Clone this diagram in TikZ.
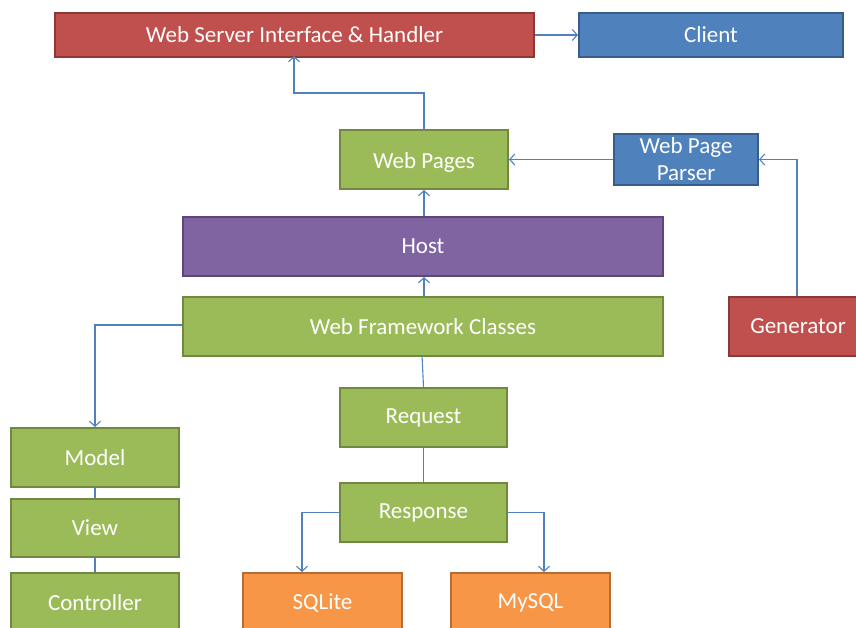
\documentclass[tikz,border=0pt]{standalone}
\usepackage{fontspec}
\setmainfont{Carlito}
\usetikzlibrary{arrows.meta}
\definecolor{redF}{HTML}{C0504D}\definecolor{redB}{HTML}{8C3836}
\definecolor{bluF}{HTML}{4F81BD}\definecolor{bluB}{HTML}{385D8A}
\definecolor{grnF}{HTML}{9BBB59}\definecolor{grnB}{HTML}{71893F}
\definecolor{purF}{HTML}{8064A2}\definecolor{purB}{HTML}{5C4776}
\definecolor{orgF}{HTML}{F79646}\definecolor{orgB}{HTML}{B66D31}
\definecolor{wire}{HTML}{4F81BD}
\tikzset{
  box/.style={draw, line width=2pt, text=white, font=\fontsize{23}{27}\selectfont,
    inner sep=0pt, anchor=north west, align=center},
  redbox/.style={box, fill=redF, draw=redB},
  blubox/.style={box, fill=bluF, draw=bluB},
  grnbox/.style={box, fill=grnF, draw=grnB},
  purbox/.style={box, fill=purF, draw=purB},
  orgbox/.style={box, fill=orgF, draw=orgB},
  wirel/.style={draw=wire, line width=1.1pt},
  arr/.style={wirel, -{Straight Barb[length=5pt,width=11pt,line width=1.1pt]}}
}
\begin{document}
\begin{tikzpicture}[x=1pt,y=-1pt]
\useasboundingbox (0,0) rectangle (856,627);
\begin{scope}
\clip (0,0) rectangle (856,627);
\node[redbox, minimum width=479pt, minimum height=44pt] (wsi) at (54,12) {Web Server Interface \& Handler};
\node[blubox, minimum width=264pt, minimum height=44pt] (client) at (578,12) {Client};
\node[grnbox, minimum width=168pt, minimum height=59pt] (pages) at (339,129) {\raisebox{-3pt}[\height][\depth]{Web Pages}};
\node[blubox, minimum width=144pt, minimum height=51pt] (parser) at (613,133) {Web Page\\Parser};
\node[purbox, minimum width=480pt, minimum height=59pt] (host) at (182,216) {Host};
\node[grnbox, minimum width=480pt, minimum height=59pt] (wfc) at (182,296) {Web Framework Classes};
\node[redbox, minimum width=138pt, minimum height=59pt] (gen) at (728,296) {Generator};
\node[grnbox, minimum width=167pt, minimum height=59pt] (req) at (339,387) {Request};
\node[grnbox, minimum width=167pt, minimum height=59pt] (resp) at (339,482) {Response};
\node[grnbox, minimum width=168pt, minimum height=59pt] (model) at (10,427) {Model};
\node[grnbox, minimum width=168pt, minimum height=58pt] (view) at (10,498) {View};
\node[grnbox, minimum width=168pt, minimum height=60pt] (ctrl) at (10,572) {Controller};
\node[orgbox, minimum width=159pt, minimum height=60pt] (sqlite) at (242,572) {SQLite};
\node[orgbox, minimum width=159pt, minimum height=60pt] (mysql) at (450,572) {MySQL};
\end{scope}
% connectors
\draw[arr] (pages.north) |- (294,93) -- (294,56);
\draw[arr] (wsi.east) -- (client.west);
\draw[arr] (parser.west) -- (pages.east |- parser.west);
\draw[arr] (797,296) |- (parser.east);
\draw[arr] (host.north -| pages.north) -- (pages.south);
\draw[arr] (wfc.north -| pages.north) -- (host.south -| pages.north);
\draw[arr] (wfc.west |- 0,325) -| (model.north);
\draw[wirel] (422,355) -- (req.north);
\draw[wirel] (req.south) -- (resp.north);
\draw[arr] (resp.west) -| (302,572);
\draw[arr] (resp.east) -| (544,572);
\draw[wirel] (model.south) -- (view.north);
\draw[wirel] (view.south) -- (ctrl.north);
\end{tikzpicture}
\end{document}
